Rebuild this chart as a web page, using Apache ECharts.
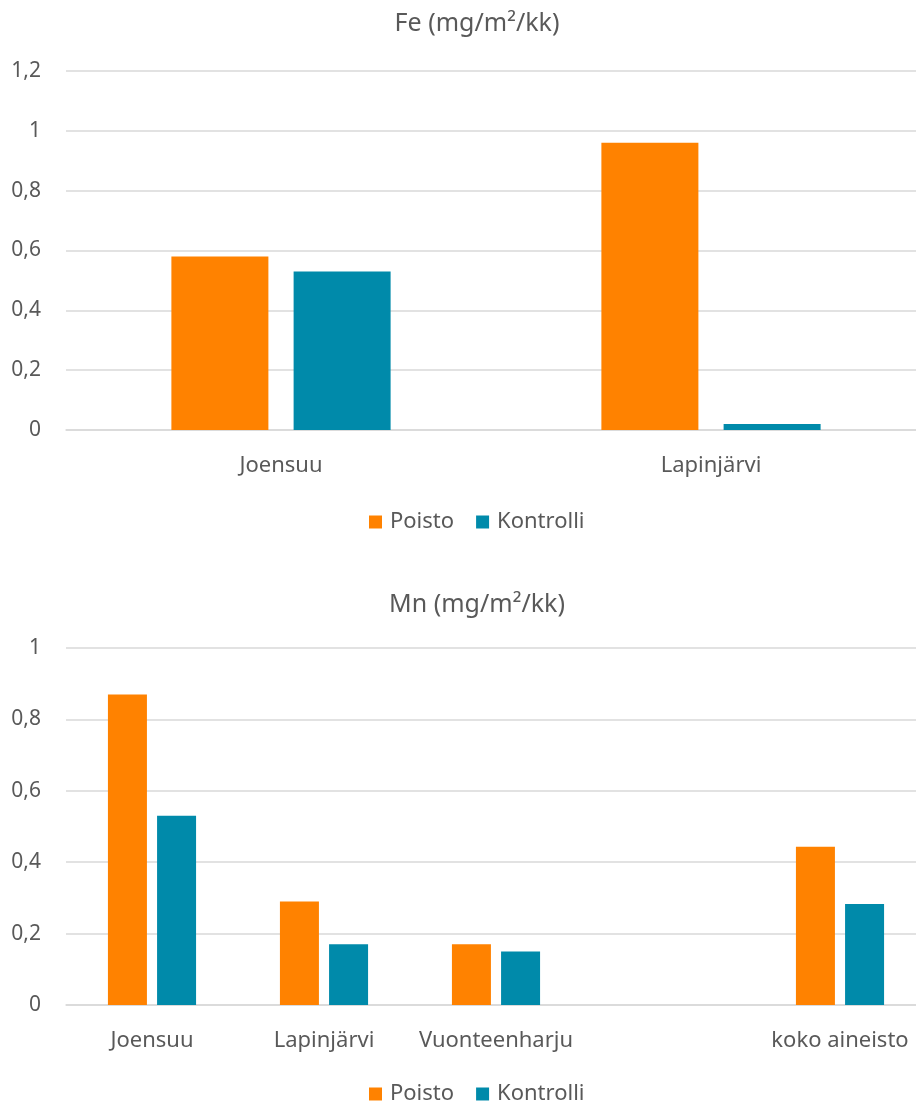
<!DOCTYPE html>
<html>
<head>
<meta charset="utf-8">
<script src="https://cdn.jsdelivr.net/npm/echarts@6/dist/echarts.min.js"></script>
<style>
  html, body { margin: 0; padding: 0; background: #ffffff; }
  #chart { width: 916px; height: 1110px; }
</style>
</head>
<body>
<div id="chart"></div>
<script>
// Fe deposition per site
const feCategories = ['Joensuu', 'Lapinjärvi'];
const fePoisto = [0.58, 0.96];
const feKontrolli = [0.53, 0.02];
const feTicks = ['0', '0,2', '0,4', '0,6', '0,8', '1', '1,2'];

// Mn deposition per site (fourth slot is an empty spacer column)
const mnCategories = ['Joensuu', 'Lapinjärvi', 'Vuonteenharju', '', 'koko aineisto'];
const mnPoisto = [0.87, 0.29, 0.17, null, 0.443];
const mnKontrolli = [0.53, 0.17, 0.15, null, 0.283];
const mnTicks = ['0', '0,2', '0,4', '0,6', '0,8', '1'];

const seriesNames = ['Poisto', 'Kontrolli'];
const titles = ['Fe (mg/m²/kk)', 'Mn (mg/m²/kk)'];

const FONT = '"Noto Sans", "Open Sans", sans-serif';
const TEXT = '#595959';
const GRID = '#d9d9d9';
const ORANGE = '#ff8200';
const TEAL = '#008aaa';

const chart = echarts.init(document.getElementById('chart'), null, { renderer: 'canvas' });

// decimal comma tick labels
function fmt(v) { return String(Math.round(v * 10) / 10).replace('.', ','); }

const xAxisBase = (gi, cats) => ({
  type: 'category', gridIndex: gi, data: cats,
  axisLine: { lineStyle: { color: GRID, width: 1.5 } },
  axisTick: { show: false },
  axisLabel: { color: TEXT, fontFamily: FONT, fontSize: 22, margin: 25, interval: 0 }
});
const yAxisBase = (gi, max) => ({
  type: 'value', gridIndex: gi, min: 0, max: max, interval: 0.2,
  axisLine: { show: false }, axisTick: { show: false },
  splitLine: { lineStyle: { color: GRID, width: 1.5 } },
  axisLabel: { color: TEXT, fontFamily: FONT, fontSize: 21, margin: 25, formatter: fmt }
});

const legendBase = (top) => ({
  data: seriesNames, left: 369, top: top, padding: 0, icon: 'rect',
  itemWidth: 13, itemHeight: 13, itemGap: 22,
  textStyle: { color: TEXT, fontFamily: FONT, fontSize: 22, padding: [0, 0, 0, 3] }
});

const titleBase = (text, top) => ({
  text: text, left: 472, top: top, textAlign: 'center',
  textStyle: { color: TEXT, fontFamily: FONT, fontSize: 25, fontWeight: 'normal' }
});

chart.setOption({
  animation: false,
  backgroundColor: '#ffffff',
  title: [ titleBase(titles[0], 6), titleBase(titles[1], 587) ],
  legend: [ legendBase(511), legendBase(1083) ],
  // the plot runs slightly past the right edge of the canvas
  grid: [
    { left: 66, right: -10, top: 71, height: 359, outerBoundsMode: 'none', containLabel: false },
    { left: 66, right: -10, top: 648, height: 357, outerBoundsMode: 'none', containLabel: false }
  ],
  xAxis: [ xAxisBase(0, feCategories), xAxisBase(1, mnCategories) ],
  yAxis: [ yAxisBase(0, 1.2), yAxisBase(1, 1) ],
  series: [
    { name: seriesNames[0], type: 'bar', xAxisIndex: 0, yAxisIndex: 0, data: fePoisto,
      barWidth: 97, barGap: '26%', itemStyle: { color: ORANGE } },
    { name: seriesNames[1], type: 'bar', xAxisIndex: 0, yAxisIndex: 0, data: feKontrolli,
      barWidth: 97, barGap: '26%', itemStyle: { color: TEAL } },
    { name: seriesNames[0], type: 'bar', xAxisIndex: 1, yAxisIndex: 1, data: mnPoisto,
      barWidth: 39, barGap: '26%', itemStyle: { color: ORANGE } },
    { name: seriesNames[1], type: 'bar', xAxisIndex: 1, yAxisIndex: 1, data: mnKontrolli,
      barWidth: 39, barGap: '26%', itemStyle: { color: TEAL } }
  ]
});
</script>
</body>
</html>
